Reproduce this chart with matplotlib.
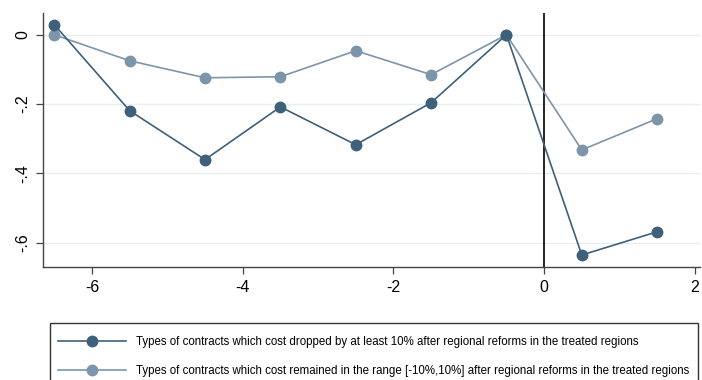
import matplotlib
matplotlib.use("Agg")
import matplotlib.pyplot as plt
from matplotlib.patches import Rectangle

plt.rcParams["font.family"] = ["Liberation Sans", "DejaVu Sans"]

# event-time (years relative to reform)
periods = [-6.5, -5.5, -4.5, -3.5, -2.5, -1.5, -0.5, 0.5, 1.5]

dropped = [0.029, -0.219, -0.360, -0.208, -0.317, -0.196, 0.0, -0.635, -0.568]
stable  = [0.0, -0.075, -0.124, -0.121, -0.046, -0.115, 0.0, -0.332, -0.242]

labels = [
    "Types of contracts which cost dropped by at least 10% after regional reforms in the treated regions",
    "Types of contracts which cost remained in the range [-10%,10%] after regional reforms in the treated regions",
]

xticks = [-6, -4, -2, 0, 2]
yticks = [0, -0.2, -0.4, -0.6]
ytick_labels = ["0", "-.2", "-.4", "-.6"]

DARK  = "#3e607b"
LIGHT = "#7d95ab"
GRID  = "#e6eff1"

W, H = 702, 380
fig = plt.figure(figsize=(W / 100, H / 100), dpi=100, facecolor="white")
ax = fig.add_axes([0.0613, 0.297, 0.936, 0.669])

ax.plot(periods, dropped, color=DARK, lw=1.2, marker="o", ms=7.5,
        label=labels[0], zorder=3)
ax.plot(periods, stable, color=LIGHT, lw=1.2, marker="o", ms=7.5,
        label=labels[1], zorder=2)
ax.axvline(0, color="black", lw=1.2, zorder=1)

ax.set_xlim(-6.65, 2.07)
ax.set_ylim(-0.67, 0.063)
ax.set_xticks(xticks)
ax.set_xticklabels([str(t) for t in xticks], fontsize=11.5)
ax.set_yticks(yticks)
ax.set_yticklabels(ytick_labels, fontsize=11.5, rotation=90, va="center")
ax.yaxis.grid(True, color=GRID, lw=1.0)
ax.set_axisbelow(True)
ax.tick_params(length=5, width=0.9, color="#444444", pad=4)

for side in ["top", "right"]:
    ax.spines[side].set_visible(False)
for side in ["left", "bottom"]:
    ax.spines[side].set_color("#444444")
    ax.spines[side].set_linewidth(1.0)

# legend entries without frame; frame drawn separately so it runs off the bottom
fig.legend(loc="upper left", bbox_to_anchor=(58 / W, 1 - 336 / H),
           borderaxespad=0, borderpad=0, fontsize=8.3, handlelength=5.9,
           handletextpad=0.9, labelspacing=1.5, frameon=False)
fig.patches.append(Rectangle((50 / W, -0.05), 648 / W, (1 - 323 / H) + 0.05,
                             transform=fig.transFigure, fill=False,
                             edgecolor="#333333", lw=1.0))

fig.savefig("out.png", dpi=100, facecolor="white")
